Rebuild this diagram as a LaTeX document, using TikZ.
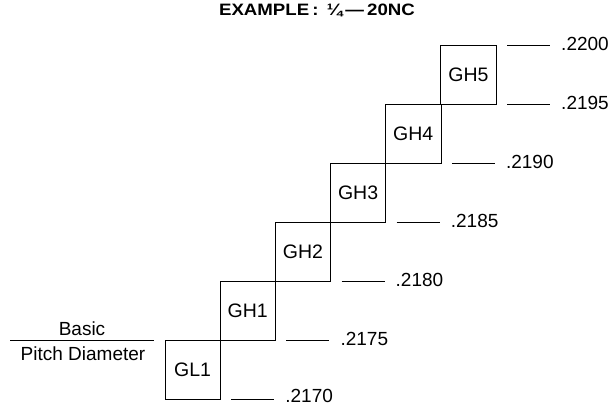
\documentclass[tikz,border=0pt]{standalone}
\usepackage{fontspec}
\setmainfont{Liberation Sans}
\begin{document}
\begin{tikzpicture}[x=1pt,y=-1pt,
  cell/.style={draw,line width=0.8pt,minimum width=55.3pt,minimum height=59pt,inner sep=0pt,font=\fontsize{19.5}{23}\selectfont},
  val/.style={anchor=west,inner sep=0pt,font=\fontsize{19}{23}\selectfont},
  tick/.style={line width=0.8pt}]
\useasboundingbox (0,0) rectangle (611,405);
\node[font=\fontsize{16.5}{19}\selectfont\bfseries,inner sep=0pt,xscale=1.13] (title) at (317,10) {EXAMPLE\,:\, ¼\,—\,20NC};
% cells: x step 55.17, y step 59
\foreach \name/\lab/\i in {gl1/GL1/0,gh1/GH1/1,gh2/GH2/2,gh3/GH3/3,gh4/GH4/4,gh5/GH5/5}{
  \node[cell] (\name) at ({165+55.17*\i+27.6},{399-59*\i-29.5}) {\lab};
}
% value labels: \j = column index of the box whose right side the tick follows
\foreach \name/\v/\i/\j/\dy in {v0/.2170/0/1/3.5,v1/.2175/1/2/1,v2/.2180/2/3/1,v3/.2185/3/4/1,v4/.2190/4/5/1,v5/.2195/5/6/1,v6/.2200/6/6/1}{
  \coordinate (t\name) at ({165+55.17*\j+11},{399-59*\i});
  \coordinate (e\name) at ({165+55.17*\j+54},{399-59*\i});
  \node[val] (\name) at ({165+55.17*\j+65},{399-\dy-59*\i}) {\v};
  \draw[tick] (t\name) -- (e\name);
}
% basic pitch diameter
\coordinate (bl) at (10,340);
\coordinate (br) at (154,340);
\draw[line width=0.8pt] (bl) -- (br);
\node[font=\fontsize{19}{23}\selectfont] (basic) at (82,329) {Basic};
\node[font=\fontsize{19}{23}\selectfont] (pd) at (83,354) {Pitch Diameter};
\end{tikzpicture}
\end{document}
